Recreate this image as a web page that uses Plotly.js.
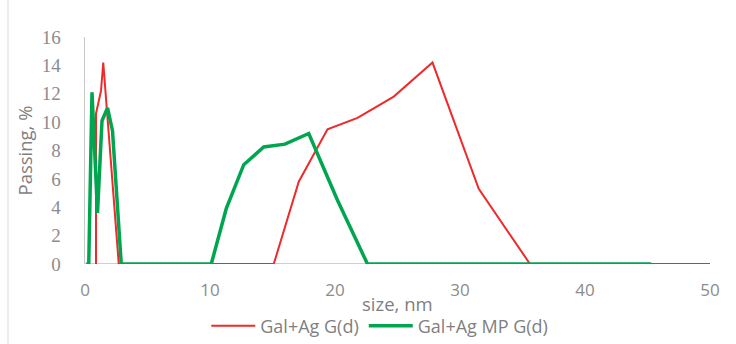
<!DOCTYPE html>
<html><head><meta charset="utf-8">
<script src="https://cdn.plot.ly/plotly-3.0.1.min.js"></script>
<style>html,body{margin:0;padding:0;background:#fff}</style>
</head><body>
<div id="chart" style="width:736px;height:344px"></div>
<script>
var redX = [0.88, 0.88, 1.28, 1.46, 2.7, 15.1, 17.1, 19.4, 21.8, 24.7, 27.8, 31.5, 35.6, 50];
var redY = [0, 10.6, 12.2, 14.2, 0, 0, 5.8, 9.5, 10.3, 11.8, 14.2, 5.3, 0, 0];
var greenX = [0.1, 0.3, 0.56, 1.0, 1.36, 1.8, 2.2, 2.9, 10.1, 11.3, 12.7, 14.3, 16.0, 17.9, 20.2, 22.6, 45.3];
var greenY = [0, 0, 12.1, 3.6, 10.1, 11.0, 9.4, 0, 0, 3.9, 7.0, 8.25, 8.45, 9.2, 4.5, 0, 0];
var seriesNames = ["Gal+Ag G(d)", "Gal+Ag MP G(d)"];
var xTicks = [0, 10, 20, 30, 40, 50];
var yTicks = [0, 2, 4, 6, 8, 10, 12, 14, 16];
var xTitle = 'size, nm';
var yTitle = 'Passing, %';

var traces = [
  {x: redX, y: redY, name: seriesNames[0], mode: 'lines', line: {color: '#ee2a2a', width: 2}},
  {x: greenX, y: greenY, name: seriesNames[1], mode: 'lines', line: {color: '#00a64f', width: 3.5}}
];
var layout = {
  width: 736, height: 344,
  margin: {l: 85, r: 26, t: 37, b: 80},
  paper_bgcolor: '#fff', plot_bgcolor: '#fff',
  showlegend: true,
  legend: {orientation: 'h', xref: 'container', yref: 'container', x: 0.516, xanchor: 'center', y: 0.052, yanchor: 'middle',
           font: {family: 'Open Sans, sans-serif', size: 18, color: '#7f7f7f'}, itemwidth: 44, tracegroupgap: 0},
  xaxis: {range: [0, 50], tickvals: xTicks, ticktext: xTicks.map(String), showgrid: false, zeroline: false,
          showline: false, ticks: '', ticklabelstandoff: 14,
          tickfont: {family: 'Open Sans, sans-serif', size: 17, color: '#8c8c8c'}},
  yaxis: {range: [0, 16], tickvals: yTicks, ticktext: yTicks.map(String), showgrid: false, zeroline: false,
          showline: true, linecolor: '#c8c8c8', linewidth: 1.5, ticks: '', ticklabelstandoff: 19,
          tickfont: {family: 'Liberation Serif, serif', size: 19, color: '#8c8c8c'},
          title: {text: yTitle, font: {family: 'Open Sans, sans-serif', size: 18.5, color: '#7f7f7f'}, standoff: 4}},
  annotations: [
    {text: xTitle, xref: 'paper', yref: 'paper', x: 0.5, y: -0.176, xanchor: 'center', yanchor: 'middle', showarrow: false,
     font: {family: 'Open Sans, sans-serif', size: 18.5, color: '#7f7f7f'}}
  ],
  shapes: [
    {type: 'line', xref: 'paper', yref: 'y', x0: 0, x1: 1, y0: 0, y1: 0, line: {color: '#bfbfbf', width: 1.5}, layer: 'below'},
    {type: 'line', xref: 'paper', yref: 'paper', x0: -0.1232, x1: -0.1232, y0: -0.36, y1: 1.17, line: {color: '#d9d9d9', width: 1}}
  ]
};
Plotly.newPlot('chart', traces, layout, {displayModeBar: false, staticPlot: true});
</script>
</body></html>
